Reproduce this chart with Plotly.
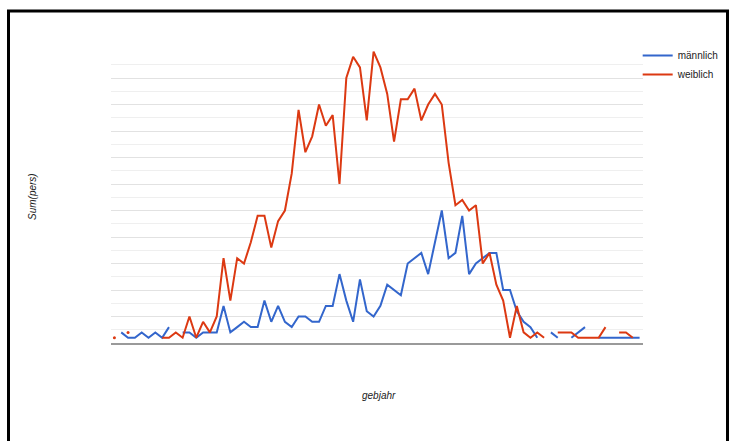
import plotly.graph_objects as go

# birth-year categories (axis labels are not shown in the reference)
years = list(range(1915, 1993))

maennlich = [None, 2, 1, 1, 2, 1, 2, 1, 3, None,
             2, 2, 1, 2, 2, 2, 7, 2, 3, 4,
             3, 3, 8, 4, 7, 4, 3, 5, 5, 4,
             4, 7, 7, 13, 8, 4, 12, 6, 5, 7,
             11, 10, 9, 15, 16, 17, 13, 19, 25, 16,
             17, 24, 13, 15, 16, 17, 17, 10, 10, 6,
             4, 3, 1, None, 2, 1, None, 1, 2, 3,
             None, 1, 1, 1, 1, 1, 1, 1]

weiblich = [1, None, 2, None, None, None, None, 1, 1, 2,
            1, 5, 1, 4, 2, 5, 16, 8, 16, 15,
            19, 24, 24, 18, 23, 25, 32, 44, 36, 39,
            45, 41, 43, 30, 50, 54, 52, 42, 55, 52,
            47, 38, 46, 46, 48, 42, 45, 47, 45, 34,
            26, 27, 25, 26, 15, 17, 11, 8, 1, 7,
            2, 1, 2, 1, None, 2, 2, 2, 1, 1,
            1, 1, 3, None, 2, 2, 1, None]

series = [("männlich", maennlich, "#3366cc"), ("weiblich", weiblich, "#dc3912")]


def isolated(vals):
    out = []
    for i, v in enumerate(vals):
        prev = vals[i - 1] if i > 0 else None
        nxt = vals[i + 1] if i < len(vals) - 1 else None
        out.append(v if (v is not None and prev is None and nxt is None) else None)
    return out


fig = go.Figure()
for name, vals, col in series:
    fig.add_trace(go.Scatter(x=years, y=vals, mode="lines", name=name,
                             line=dict(color=col, width=2), connectgaps=False))
for name, vals, col in series:
    fig.add_trace(go.Scatter(x=years, y=isolated(vals), mode="markers",
                             marker=dict(color=col, size=3), showlegend=False,
                             hoverinfo="skip"))

W, H = 729, 441
ml, mt = 111, 51
pr, pb = 643, 343
mr, mb = W - pr, H - pb
pw, ph = pr - ml, pb - mt


def px(xp):
    return (xp - ml) / pw


def py(yp):
    return (pb - yp) / ph


fig.update_layout(
    width=W, height=H,
    margin=dict(l=ml, r=mr, t=mt, b=mb, pad=0, autoexpand=False),
    paper_bgcolor="white", plot_bgcolor="white",
    font=dict(family="Liberation Sans, Arial, sans-serif", size=10, color="#222222"),
    showlegend=True,
    legend=dict(x=0.99, y=1.034, xanchor="left", yanchor="top",
                font=dict(size=10, color="#222222"), bgcolor="rgba(0,0,0,0)",
                itemwidth=30, tracegroupgap=0),
    xaxis=dict(range=[years[0] - 0.5, years[-1] + 0.5], showgrid=False,
               showticklabels=False, ticks="", zeroline=False,
               showline=True, linecolor="#9a9a9a", linewidth=2),
    yaxis=dict(range=[0, 55.1], dtick=5, tick0=0, showticklabels=False, ticks="",
               showgrid=True, gridcolor="#e2e2e2", gridwidth=1, zeroline=False,
               minor=dict(dtick=2.5, showgrid=True, gridcolor="#efefef", gridwidth=1)),
    annotations=[
        dict(text="<i>gebjahr</i>", xref="paper", yref="paper",
             x=px(379), y=py(395), showarrow=False,
             xanchor="center", yanchor="middle", font=dict(size=10, color="#222222")),
        dict(text="<i>Sum(pers)</i>", xref="paper", yref="paper",
             x=px(32), y=py(197), showarrow=False, textangle=-90,
             xanchor="center", yanchor="middle", font=dict(size=10, color="#222222")),
    ],
    shapes=[
        dict(type="line", xref="paper", yref="paper",
             x0=px(8.5), x1=px(8.5), y0=py(11), y1=py(445),
             line=dict(color="black", width=3)),
        dict(type="line", xref="paper", yref="paper",
             x0=px(7), x1=px(729), y0=py(11), y1=py(11),
             line=dict(color="black", width=3)),
        dict(type="line", xref="paper", yref="paper",
             x0=px(727.5), x1=px(727.5), y0=py(11), y1=py(445),
             line=dict(color="black", width=3)),
    ],
)

# remove the browser's default 8px body margin so figure pixels map to page pixels
fig.write_html(
    "out.html",
    config={"displayModeBar": False},
    post_script="document.body.style.margin='0';document.body.style.overflow='hidden';",
)
